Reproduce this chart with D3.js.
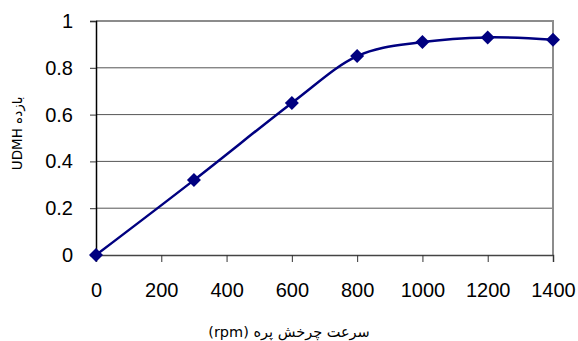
<!DOCTYPE html>
<html>
<head>
<meta charset="utf-8">
<script src="https://cdn.jsdelivr.net/npm/d3@7"></script>
<style>
  body { margin: 0; background: #fff; }
  text { font-family: Arial, "Liberation Sans", "DejaVu Sans", sans-serif; }
</style>
</head>
<body>
<div id="chart"></div>
<script>
'use strict';

// data
var rpm = [0, 300, 600, 800, 1000, 1200, 1400];
var efficiency = [0, 0.32, 0.65, 0.85, 0.91, 0.93, 0.92];
var xTicks = [0, 200, 400, 600, 800, 1000, 1200, 1400];
var yTicks = [0, 0.2, 0.4, 0.6, 0.8, 1];
var xTitle = "سرعت چرخش پره (rpm)";
var yTitle = "بازده UDMH";

var width = 578, height = 341;
var margin = {top: 21, right: 25, bottom: 86, left: 96};
var w = width - margin.left - margin.right,
  h = height - margin.top - margin.bottom;

var lineColor = "#000080";

var svg = d3.select("#chart").append("svg")
  .attr("width", width)
  .attr("height", height);

var g = svg.append("g")
  .attr("transform", "translate(" + margin.left + "," + margin.top + ")");

var x = d3.scaleLinear().domain([0, 1400]).range([0, w]),
  y = d3.scaleLinear().domain([0, 1]).range([h, 0]);

// gridlines
g.append("g")
  .selectAll("line")
  .data(yTicks.filter((d) => d > 0 && d < 1))
  .enter().append("line")
  .attr("x1", 0).attr("x2", w)
  .attr("y1", (d) => y(d)).attr("y2", (d) => y(d))
  .attr("stroke", "#555").attr("stroke-width", 1);

// plot frame: grey top/right
g.append("path")
  .attr("d", "M0," + y(1) + "H" + w + "V" + h)
  .attr("fill", "none")
  .attr("stroke", "#8c8c8c")
  .attr("stroke-width", 2);

// axes
var yAxis = g.append("g")
  .call(d3.axisLeft(y).tickValues(yTicks).tickSize(6).tickPadding(17)
    .tickFormat((d) => d3.format("")(+d.toFixed(1))));
var xAxis = g.append("g")
  .attr("transform", "translate(0," + h + ")")
  .call(d3.axisBottom(x).tickValues(xTicks).tickSize(7).tickPadding(21).tickFormat(d3.format("")));

[yAxis, xAxis].forEach(function (a) {
  a.select(".domain").attr("stroke", "#000").attr("stroke-width", 1.5);
  a.selectAll(".tick line").attr("stroke", "#333");
  a.selectAll(".tick text")
    .attr("fill", "#000")
    .style("font-size", "20px")
    .style("font-family", "Arial, 'Liberation Sans', sans-serif");
});
xAxis.select(".domain").attr("stroke", "#444").attr("stroke-width", 1.5);

// smoothed line
var line = d3.line()
  .x((d, i) => x(rpm[i]))
  .y((d) => y(d))
  .curve(d3.curveCardinal.tension(0));

g.append("path")
  .datum(efficiency)
  .attr("d", line)
  .attr("fill", "none")
  .attr("stroke", lineColor)
  .attr("stroke-width", 2.5);

g.append("g")
  .selectAll("path")
  .data(efficiency)
  .enter().append("path")
  .attr("d", d3.symbol().type(d3.symbolDiamond2).size(125))
  .attr("transform", (d, i) => "translate(" + x(rpm[i]) + "," + y(d) + ")")
  .attr("fill", lineColor);

// axis titles
svg.append("text")
  .attr("x", 289)
  .attr("y", 337)
  .attr("text-anchor", "middle")
  .style("direction", "rtl")
  .style("font-size", "14.5px")
  .style("font-family", "'DejaVu Sans', Arial, sans-serif")
  .text(xTitle);

svg.append("text")
  .attr("transform", "translate(22," + (margin.top + y(0.52)) + ") rotate(-90)")
  .attr("text-anchor", "middle")
  .style("direction", "rtl")
  .style("font-size", "13.5px")
  .style("font-family", "'DejaVu Sans', Arial, sans-serif")
  .text(yTitle);
</script>
</body>
</html>
